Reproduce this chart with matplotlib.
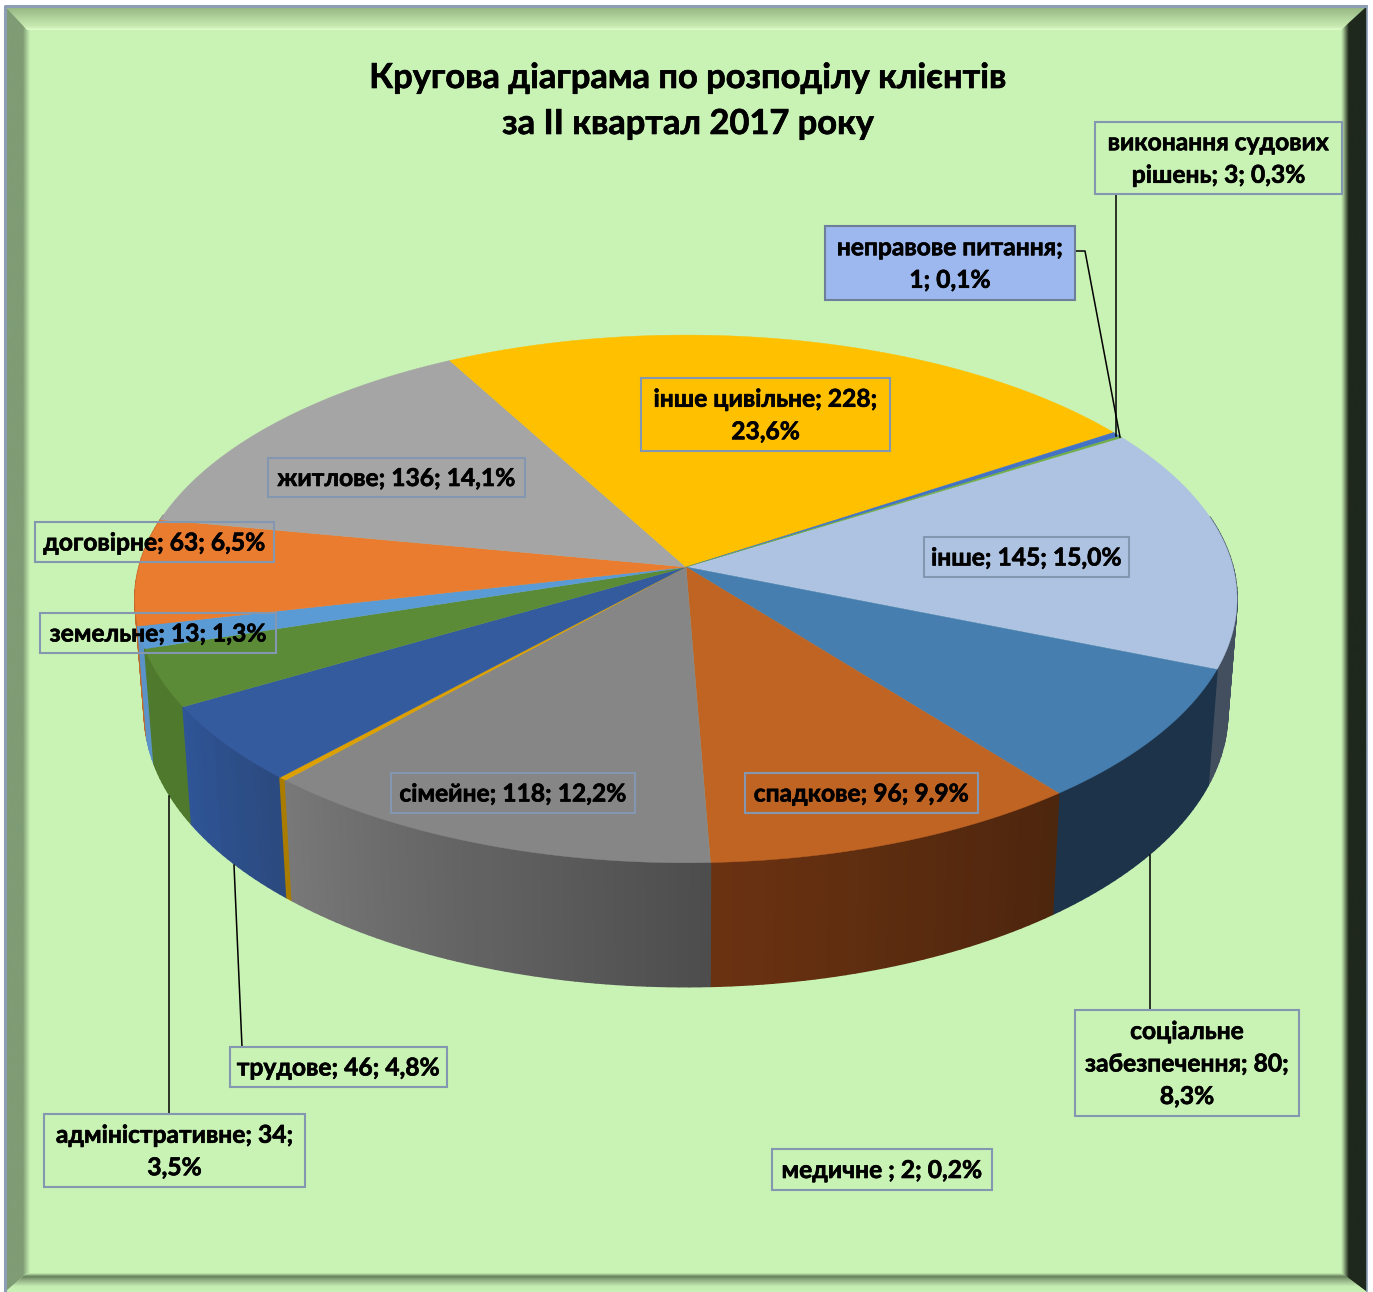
import numpy as np
import matplotlib
matplotlib.use('Agg')
import matplotlib.pyplot as plt
import matplotlib.patheffects as pe
from matplotlib.colors import LinearSegmentedColormap
from matplotlib.colors import to_rgb
from matplotlib.patches import Polygon, Rectangle

W, H = 1373, 1292
FONT = ['Lato', 'Open Sans', 'DejaVu Sans']

# ---------- data ----------
categories = ['інше', 'соціальне забезпечення', 'спадкове', 'сімейне', 'медичне ', 'трудове',
              'адміністративне', 'земельне', 'договірне', 'житлове', 'інше цивільне',
              'виконання судових рішень', 'неправове питання']
values = [145, 80, 96, 118, 2, 46, 34, 13, 63, 136, 228, 3, 1]
percents = ['15,0%', '8,3%', '9,9%', '12,2%', '0,2%', '4,8%', '3,5%', '1,3%', '6,5%',
            '14,1%', '23,6%', '0,3%', '0,1%']
top_colors = ['#ADC3E1', '#467EAF', '#C06424', '#868686', '#DDA000', '#355B9F', '#5C8B38',
              '#5B9BD5', '#EA7C30', '#A5A5A5', '#FFC000', '#4472C4', '#70AD47']
side_from = ['#434F5F', '#1C3349', '#4D260E', '#4D4D4D', '#A97C00', '#2B4A7F', '#4F7A2D',
             '#5B93C8', '#C0692A', '#7A7A7A', '#A07800', '#2F5597', '#4F7A2D']
side_to = ['#434F5F', '#1C3349', '#6B3211', '#787878', '#A97C00', '#2F5597', '#4F7A2D',
           '#5B93C8', '#C0692A', '#7A7A7A', '#A07800', '#2F5597', '#4F7A2D']

title_lines = ['Кругова діаграма по розподілу клієнтів', 'за ІІ квартал 2017 року']

# label boxes: text lines, box (x0, y0, x1, y1), fill
labels = [
    (['виконання судових', 'рішень; 3; 0,3%'], (1095, 122, 1342, 194), None),
    (['неправове питання;', '1; 0,1%'], (825, 226, 1075, 300), '#9DB8EE'),
    (['інше цивільне; 228;', '23,6%'], (641, 378, 890, 451), None),
    (['житлове; 136; 14,1%'], (268, 458, 525, 497), None),
    (['договірне; 63; 6,5%'], (35, 522, 274, 562), None),
    (['земельне; 13; 1,3%'], (40, 613, 276, 653), None),
    (['інше; 145; 15,0%'], (924, 537, 1129, 577), None),
    (['сімейне; 118; 12,2%'], (391, 773, 635, 813), None),
    (['спадкове; 96; 9,9%'], (745, 773, 978, 813), None),
    (['соціальне', 'забезпечення; 80;', '8,3%'], (1075, 1010, 1299, 1116), None),
    (['медичне ; 2; 0,2%'], (772, 1149, 992, 1190), None),
    (['трудове; 46; 4,8%'], (230, 1047, 447, 1087), None),
    (['адміністративне; 34;', '3,5%'], (44, 1114, 305, 1187), None),
]
leaders = [
    [(1116, 194), (1116, 436)],
    [(1075, 251), (1085, 251), (1120, 437)],
    [(1150, 855), (1150, 1010)],
    [(234, 865), (242, 1047)],
    [(169, 796), (169, 1114)],
]

# ---------- pie geometry (projection of the disc) ----------
CX, CY = 686.0, 567.0
A, B, K = 260.0, 547.0, 0.121
START = 32.0
SX, SY, BOTTOM_Y = 0.983, 1.04, 679.0


def top_pt(theta):
    u, v = np.cos(theta), np.sin(theta)
    d = 1 + K * v
    return CX + B * u / d, CY - A * v / d


def bottom_pt(theta):
    x, y = top_pt(theta)
    return CX + SX * (x - CX), BOTTOM_Y + SY * (y - CY)


fig = plt.figure(figsize=(W / 100, H / 100), dpi=100, facecolor='white')
ax = fig.add_axes([0, 0, 1, 1])
ax.set_xlim(0, W)
ax.set_ylim(H, 0)
ax.axis('off')

# ---------- frame ----------
L, T, R, Bt = 5, 6, 1367, 1292
iL, iT, iR, iB = 27, 30, 1342, 1273
BG = '#C9F2B5'


def gradient(extent, stops, horizontal, clip=None):
    cmap = LinearSegmentedColormap.from_list('g', stops, N=256)
    t = np.linspace(0, 1, 256)
    arr = t[None, :] if horizontal else t[:, None]
    im = ax.imshow(arr, extent=extent, aspect='auto', zorder=1, cmap=cmap, vmin=0, vmax=1,
                   interpolation='bilinear')
    if clip is not None:
        im.set_clip_path(Polygon(clip, transform=ax.transData))
    return im


ax.add_patch(Rectangle((L, T), R - L, Bt - T, fc=BG, ec='none', zorder=0))
gradient((L, R, iT, T), [(0, '#93B27F'), (0.85, '#C8EBB2'), (1, '#E2FDCC')], False,
         [(L, T), (R, T), (iR, iT), (iL, iT)])
gradient((L, iL + 3, Bt, T), [(0, '#7F9C75'), (0.72, '#7F9C75'), (1, BG)], True,
         [(L, T), (iL, iT), (iL + 3, iT), (iL + 3, iB), (iL, iB), (L, Bt)])
gradient((iR - 1, R, Bt, T), [(0, BG), (0.08, '#A8C797'), (0.3, '#1F281C'), (1, '#1F281C')], True,
         [(R, T), (iR - 1, iT), (iR - 1, iB), (R, Bt)])
gradient((L, R, Bt, iB), [(0, BG), (0.18, '#647F5A'), (0.35, '#8DAA7F'), (0.7, '#C5EDB2'), (1, BG)], False,
         [(L, Bt), (iL, iB), (iR, iB), (R, Bt)])
ax.plot([L, L, R], [Bt, T, T], color='#8C9DB5', lw=2.2, zorder=2, solid_capstyle='butt')
ax.plot([R, R], [T, Bt], color='#8C9DB5', lw=1.2, zorder=2)
ax.set_xlim(0, W)
ax.set_ylim(H, 0)

# ---------- pie ----------
vals = np.array(values, dtype=float)
edges = np.radians(START) - np.concatenate([[0], np.cumsum(vals)]) / vals.sum() * 2 * np.pi

strips = []
for i in range(len(vals)):
    a0, a1 = edges[i], edges[i + 1]
    n = max(2, int(abs(a1 - a0) / np.radians(1.0)) + 2)
    ts = np.linspace(a0, a1, n)
    for j in range(n - 1):
        mid = 0.5 * (ts[j] + ts[j + 1])
        if np.sin(mid) > 0.2:
            continue
        f = j / max(1, n - 2)
        col = (1 - f) * np.array(to_rgb(side_from[i])) + f * np.array(to_rgb(side_to[i]))
        t = np.array([ts[j], ts[j + 1]])
        xt, yt = top_pt(t)
        xb, yb = bottom_pt(t)
        pts = list(zip(xt, yt)) + list(zip(xb[::-1], yb[::-1]))
        strips.append((np.sin(mid), pts, col))
strips.sort(key=lambda s: -s[0])
for _, pts, col in strips:
    ax.add_patch(Polygon(pts, fc=col, ec=col, lw=1.2, zorder=3, joinstyle='round'))

for i in range(len(vals)):
    n = max(3, int(abs(edges[i + 1] - edges[i]) / np.radians(0.5)) + 2)
    ts = np.linspace(edges[i], edges[i + 1], n)
    xs, ys = top_pt(ts)
    pts = [(CX, CY)] + list(zip(xs, ys))
    ax.add_patch(Polygon(pts, fc=top_colors[i], ec=top_colors[i], lw=0.3, zorder=4))

# ---------- leaders ----------
for line in leaders:
    xs, ys = zip(*line)
    ax.plot(xs, ys, color='black', lw=1.1, zorder=5)

# ---------- labels ----------
stroke = [pe.withStroke(linewidth=0.45, foreground='black')]
for lines, (x0, y0, x1, y1), fill in labels:
    ax.add_patch(Rectangle((x0, y0), x1 - x0, y1 - y0, fc=fill if fill else 'none',
                           ec='#6E7F99' if fill else '#8497B0', lw=1.5, zorder=6))
    ax.text((x0 + x1) / 2, (y0 + y1) / 2 + 1, '\n'.join(lines), ha='center', va='center',
            family=FONT, weight='bold', fontsize=17.7, linespacing=1.5, color='black', zorder=7,
            path_effects=stroke)

# ---------- title ----------
for line, y in zip(title_lines, (78, 124)):
    ax.text(688, y, line, ha='center', va='center', family=FONT, weight='bold',
            fontsize=24.8, color='black', zorder=7, path_effects=stroke)

fig.savefig('out.png', dpi=100, facecolor='white')
